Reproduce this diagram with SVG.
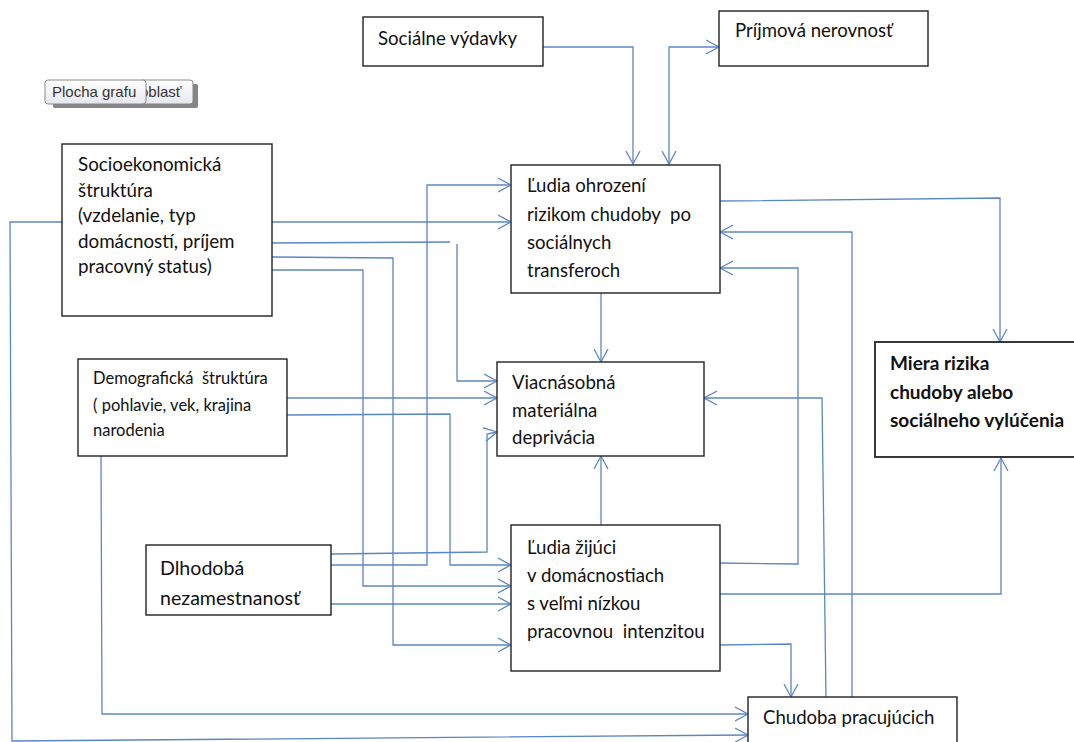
<svg xmlns="http://www.w3.org/2000/svg" width="1074" height="742" viewBox="0 0 1074 742">
<style>
.box{fill:#fff;stroke:#222;stroke-width:1.4}
.t{font-family:Lato,"Liberation Sans",sans-serif;font-size:18.6px;fill:#111;white-space:pre}
.b{font-weight:bold;font-size:19px}
.c{fill:none;stroke:#5b86c6;stroke-width:1.3}
.btn{font-family:"Liberation Sans",sans-serif;font-size:15px;fill:#333}
</style>
<defs>
<marker id="a" markerUnits="userSpaceOnUse" markerWidth="16" markerHeight="18" refX="13" refY="8" orient="auto-start-reverse" viewBox="0 0 16 18">
<path d="M0,1 L13,8 L0,15" fill="none" stroke="#5b86c6" stroke-width="1.3"/>
</marker>
<linearGradient id="g" x1="0" y1="0" x2="0" y2="1">
<stop offset="0" stop-color="#ffffff"/><stop offset="1" stop-color="#e6e6f0"/>
</linearGradient>
</defs>

<g id="button">
<rect x="53" y="84" width="145" height="24" rx="2" fill="#666" opacity="0.8"/>
<rect x="140" y="80" width="53" height="24" rx="3" fill="url(#g)" stroke="#8a8a8a"/>
<text class="btn" x="140" y="97">oblasť</text>
<rect x="45" y="80" width="101" height="24" rx="3" fill="url(#g)" stroke="#8a8a8a"/>
<text class="btn" x="52" y="97">Plocha grafu</text>
</g>

<g id="connectors">
<path class="c" d="M543,47 L633,47 L633,164" marker-end="url(#a)"/>
<path class="c" d="M669,164 L669,47 L719,47" marker-start="url(#a)" marker-end="url(#a)"/>
<path class="c" d="M62,222 L10,222 L12,741 L748,735" marker-end="url(#a)"/>
<path class="c" d="M272,222 L511,222" marker-end="url(#a)"/>
<path class="c" d="M272,243 L450,242"/>
<path class="c" d="M457,244 L457,381 L497,381" marker-end="url(#a)"/>
<path class="c" d="M272,257 L393,258 L393,645 L511,645" marker-end="url(#a)"/>
<path class="c" d="M272,270 L363,270 L363,586 L511,586" marker-end="url(#a)"/>
<path class="c" d="M331,565 L427,565 L427,185 L511,185" marker-end="url(#a)"/>
<path class="c" d="M331,554 L487,552 L487,434 L497,432" marker-end="url(#a)"/>
<path class="c" d="M331,604 L511,604" marker-end="url(#a)"/>
<path class="c" d="M287,398 L497,398" marker-end="url(#a)"/>
<path class="c" d="M287,415 L450,414 L450,565 L511,565" marker-end="url(#a)"/>
<path class="c" d="M101,456 L102,714 L748,714" marker-end="url(#a)"/>
<path class="c" d="M601,293 L601,362" marker-end="url(#a)"/>
<path class="c" d="M601,525 L601,456" marker-end="url(#a)"/>
<path class="c" d="M720,201 L1000,198 L1000,342" marker-end="url(#a)"/>
<path class="c" d="M852,697 L852,232 L720,232" marker-end="url(#a)"/>
<path class="c" d="M720,563 L798,564 L798,268 L720,268" marker-end="url(#a)"/>
<path class="c" d="M826,697 L822,398 L704,398" marker-end="url(#a)"/>
<path class="c" d="M720,594 L1001,594 L1001,458" marker-end="url(#a)"/>
<path class="c" d="M720,645 L791,644 L791,697" marker-end="url(#a)"/>
</g>

<g id="socialne-vydavky">
<rect class="box" x="363" y="17" width="180" height="49"/>
<text class="t" x="378" y="45">Sociálne výdavky</text>
</g>

<g id="prijmova-nerovnost">
<rect class="box" x="719" y="11" width="209" height="55"/>
<text class="t" x="735" y="37">Príjmová nerovnosť</text>
</g>

<g id="socioekonomicka">
<rect class="box" x="62" y="144" width="210" height="172"/>
<text class="t" style="font-size:18.8px" x="78" y="171">Socioekonomická</text>
<text class="t" style="font-size:18.8px" x="78" y="197">štruktúra</text>
<text class="t" style="font-size:18.8px" x="78" y="222">(vzdelanie, typ</text>
<text class="t" style="font-size:18.8px" x="78" y="248">domácností, príjem</text>
<text class="t" style="font-size:18.8px" x="78" y="273">pracovný status)</text>
</g>

<g id="ludia-ohrozeni">
<rect class="box" x="511" y="165" width="209" height="128"/>
<text class="t" x="527" y="192">Ľudia ohrození</text>
<text class="t" x="527" y="221">rizikom chudoby  po</text>
<text class="t" x="527" y="249">sociálnych</text>
<text class="t" x="527" y="277">transferoch</text>
</g>

<g id="miera-rizika">
<rect class="box" x="875" y="342" width="210" height="115" style="stroke-width:1.8"/>
<text class="t b" x="890" y="370">Miera rizika</text>
<text class="t b" x="890" y="399">chudoby alebo</text>
<text class="t b" x="890" y="427">sociálneho vylúčenia</text>
</g>

<g id="demograficka">
<rect class="box" x="78" y="359" width="209" height="97"/>
<text class="t" style="font-size:16.5px" x="93" y="384">Demografická  štruktúra</text>
<text class="t" style="font-size:16.5px" x="93" y="411">( pohlavie, vek, krajina</text>
<text class="t" style="font-size:16.5px" x="93" y="436">narodenia</text>
</g>

<g id="viacnasobna">
<rect class="box" x="497" y="362" width="207" height="94"/>
<text class="t" x="512" y="389">Viacnásobná</text>
<text class="t" x="512" y="417">materiálna</text>
<text class="t" x="512" y="444">deprivácia</text>
</g>

<g id="dlhodoba">
<rect class="box" x="146" y="545" width="185" height="70"/>
<text class="t" style="font-size:19.6px" x="160" y="575">Dlhodobá</text>
<text class="t" style="font-size:19.6px" x="160" y="605">nezamestnanosť</text>
</g>

<g id="ludia-zijuci">
<rect class="box" x="511" y="525" width="209" height="146"/>
<text class="t" x="527" y="554">Ľudia žijúci</text>
<text class="t" x="527" y="582">v domácnostiach</text>
<text class="t" x="527" y="610">s veľmi nízkou</text>
<text class="t" x="527" y="638">pracovnou  intenzitou</text>
</g>

<g id="chudoba-pracujucich">
<rect class="box" x="748" y="697" width="209" height="60"/>
<text class="t" x="763" y="724">Chudoba pracujúcich</text>
</g>
</svg>
